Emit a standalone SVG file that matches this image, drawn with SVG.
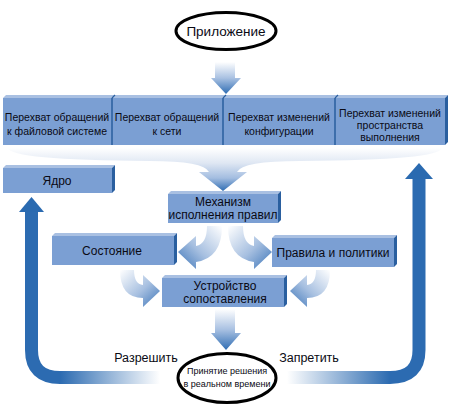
<svg xmlns="http://www.w3.org/2000/svg" width="450" height="410" viewBox="0 0 450 410">
<defs>
<linearGradient id="gDown" x1="0" y1="0" x2="0" y2="1">
<stop offset="0" stop-color="#ffffff"/>
<stop offset="0.5" stop-color="#a9c1e2"/>
<stop offset="1" stop-color="#2f6db3"/>
</linearGradient>
<linearGradient id="gCurveL" x1="1" y1="0" x2="0" y2="1">
<stop offset="0" stop-color="#ffffff"/>
<stop offset="0.55" stop-color="#a6bfe0"/>
<stop offset="1" stop-color="#3b74b8"/>
</linearGradient>
<linearGradient id="gCurveR" x1="0" y1="0" x2="1" y2="1">
<stop offset="0" stop-color="#ffffff"/>
<stop offset="0.55" stop-color="#a6bfe0"/>
<stop offset="1" stop-color="#3b74b8"/>
</linearGradient>
<linearGradient id="gTray" x1="0" y1="0" x2="0" y2="1">
<stop offset="0" stop-color="#ffffff"/>
<stop offset="0.35" stop-color="#dfe7f3"/>
<stop offset="0.7" stop-color="#a3bde0"/>
<stop offset="1" stop-color="#2f6db3"/>
</linearGradient>
<linearGradient id="gLoopL" gradientUnits="userSpaceOnUse" x1="60" y1="0" x2="160" y2="0">
<stop offset="0" stop-color="#2c6bb1"/>
<stop offset="1" stop-color="#2c6bb1" stop-opacity="0"/>
</linearGradient>
<linearGradient id="gLoopR" gradientUnits="userSpaceOnUse" x1="390" y1="0" x2="287" y2="0">
<stop offset="0" stop-color="#2c6bb1"/>
<stop offset="1" stop-color="#2c6bb1" stop-opacity="0"/>
</linearGradient>
</defs>
<style>
.box{fill:#7b9fd3;}
.top{fill:#a9c0e2;}
.side{fill:#2a5f9f;}
.t{font-family:"Liberation Sans",Arial,sans-serif;fill:#0a0a14;text-anchor:middle;}
.bar{font-size:10.5px;}
.bx{font-size:12px;}
.ell{fill:#fff;stroke:#000;stroke-width:3;}
.loop{fill:none;stroke-width:13;}
.head{fill:#2a6ab0;}
</style>

<g id="connectors">
<path d="M215,62 L235,62 L235,78 L241,78 L226,94 L211,78 L215,78 Z" fill="url(#gDown)"/>
<path d="M8,148 L442,148 Q440,160 300,161 Q242,161 237,172 L247,172 L223,191 L199,172 L209,172 Q204,161 150,161 Q10,160 8,148 Z" fill="url(#gTray)"/>
<path d="M207,226 L222,226 Q222,258 196,262 L196,269 L178,252 L196,236 L196,246 Q207,244 207,226 Z" fill="url(#gCurveL)"/>
<path d="M243,226 L228,226 Q228,258 254,262 L254,269 L272,252 L254,236 L254,246 Q243,244 243,226 Z" fill="url(#gCurveR)"/>
<path d="M120,270 L134,270 Q134,284 143,285 L143,275 L160,291 L143,307 L143,298 Q120,298 120,270 Z" fill="url(#gCurveR)"/>
<path d="M330,270 L316,270 Q316,284 307,285 L307,275 L290,291 L307,307 L307,298 Q330,298 330,270 Z" fill="url(#gCurveL)"/>
<path d="M215,309 L235,309 L235,333 L241,333 L226,350 L211,333 L215,333 Z" fill="url(#gDown)"/>
<path class="loop" stroke="url(#gLoopL)" d="M31.5,210 L31.5,350 Q31.5,377.5 60,377.5 L160,377.5"/>
<path class="head" d="M31.5,197 L44,212 L19,212 Z"/>
<path class="loop" stroke="url(#gLoopR)" d="M419,176 L419,350 Q419,377.5 390,377.5 L287,377.5"/>
<path class="head" d="M419,163 L433,179 L405,179 Z"/>
</g>

<g id="app">
<ellipse class="ell" cx="226" cy="31" rx="50" ry="18.5"/>
<text class="t" x="226" y="36" font-size="13.5">Приложение</text>
</g>

<g id="bar">
<rect class="box" x="3" y="98" width="442" height="47"/>
<path class="top" d="M3,98 L6,95 L448,95 L445,98 Z"/>
<path class="side" d="M445,98 L448,95 L448,142 L445,145 Z"/>
<path d="M112,98 L112,145 M223,98 L223,145 M335,98 L335,145" stroke="#2a5f9f" stroke-width="1.5"/>
<path d="M112,98 L115,95 M223,98 L226,95 M335,98 L338,95" stroke="#2a5f9f" stroke-width="1.2"/>
</g>
<g id="fs">
<text class="t bar" x="57" y="121">Перехват обращений</text>
<text class="t bar" x="57" y="135">к файловой системе</text>
</g>
<g id="net">
<text class="t bar" x="167" y="121">Перехват обращений</text>
<text class="t bar" x="167" y="135">к сети</text>
</g>
<g id="cfg">
<text class="t bar" x="279" y="121">Перехват изменений</text>
<text class="t bar" x="279" y="135">конфигурации</text>
</g>
<g id="rt">
<text class="t bar" x="390" y="117">Перехват изменений</text>
<text class="t bar" x="390" y="129">пространства</text>
<text class="t bar" x="390" y="141">выполнения</text>
</g>

<g id="kernel">
<rect class="box" x="3" y="168" width="109" height="25"/>
<path class="top" d="M3,168 L6,165 L115,165 L112,168 Z"/>
<path class="side" d="M112,168 L115,165 L115,190 L112,193 Z"/>
<text class="t bx" x="57" y="185">Ядро</text>
</g>

<g id="engine">
<rect class="box" x="168" y="194" width="110" height="29"/>
<path class="top" d="M168,194 L171,191 L281,191 L278,194 Z"/>
<path class="side" d="M278,194 L281,191 L281,220 L278,223 Z"/>
<text class="t bx" x="223" y="206">Механизм</text>
<text class="t bx" x="223" y="219">исполнения правил</text>
</g>

<g id="state">
<rect class="box" x="52" y="236" width="122" height="29"/>
<path class="top" d="M52,236 L55,233 L177,233 L174,236 Z"/>
<path class="side" d="M174,236 L177,233 L177,262 L174,265 Z"/>
<text class="t bx" x="112" y="255">Состояние</text>
</g>

<g id="rules">
<rect class="box" x="272" y="238" width="122" height="29"/>
<path class="top" d="M272,238 L275,235 L397,235 L394,238 Z"/>
<path class="side" d="M394,238 L397,235 L397,264 L394,267 Z"/>
<text class="t bx" x="333" y="257">Правила и политики</text>
</g>

<g id="matcher">
<rect class="box" x="162" y="278" width="122" height="29"/>
<path class="top" d="M162,278 L165,275 L287,275 L284,278 Z"/>
<path class="side" d="M284,278 L287,275 L287,304 L284,307 Z"/>
<text class="t bx" x="225" y="290">Устройство</text>
<text class="t bx" x="225" y="303">сопоставления</text>
</g>

<g id="allow">
<text class="t" x="146" y="362" font-size="12.5">Разрешить</text>
</g>
<g id="deny">
<text class="t" x="309" y="362" font-size="12.5">Запретить</text>
</g>

<g id="decision">
<ellipse class="ell" cx="227" cy="378" rx="49" ry="24.5"/>
<text class="t" x="227" y="374" font-size="9">Принятие решения</text>
<text class="t" x="227" y="387" font-size="9">в реальном времени</text>
</g>
</svg>
